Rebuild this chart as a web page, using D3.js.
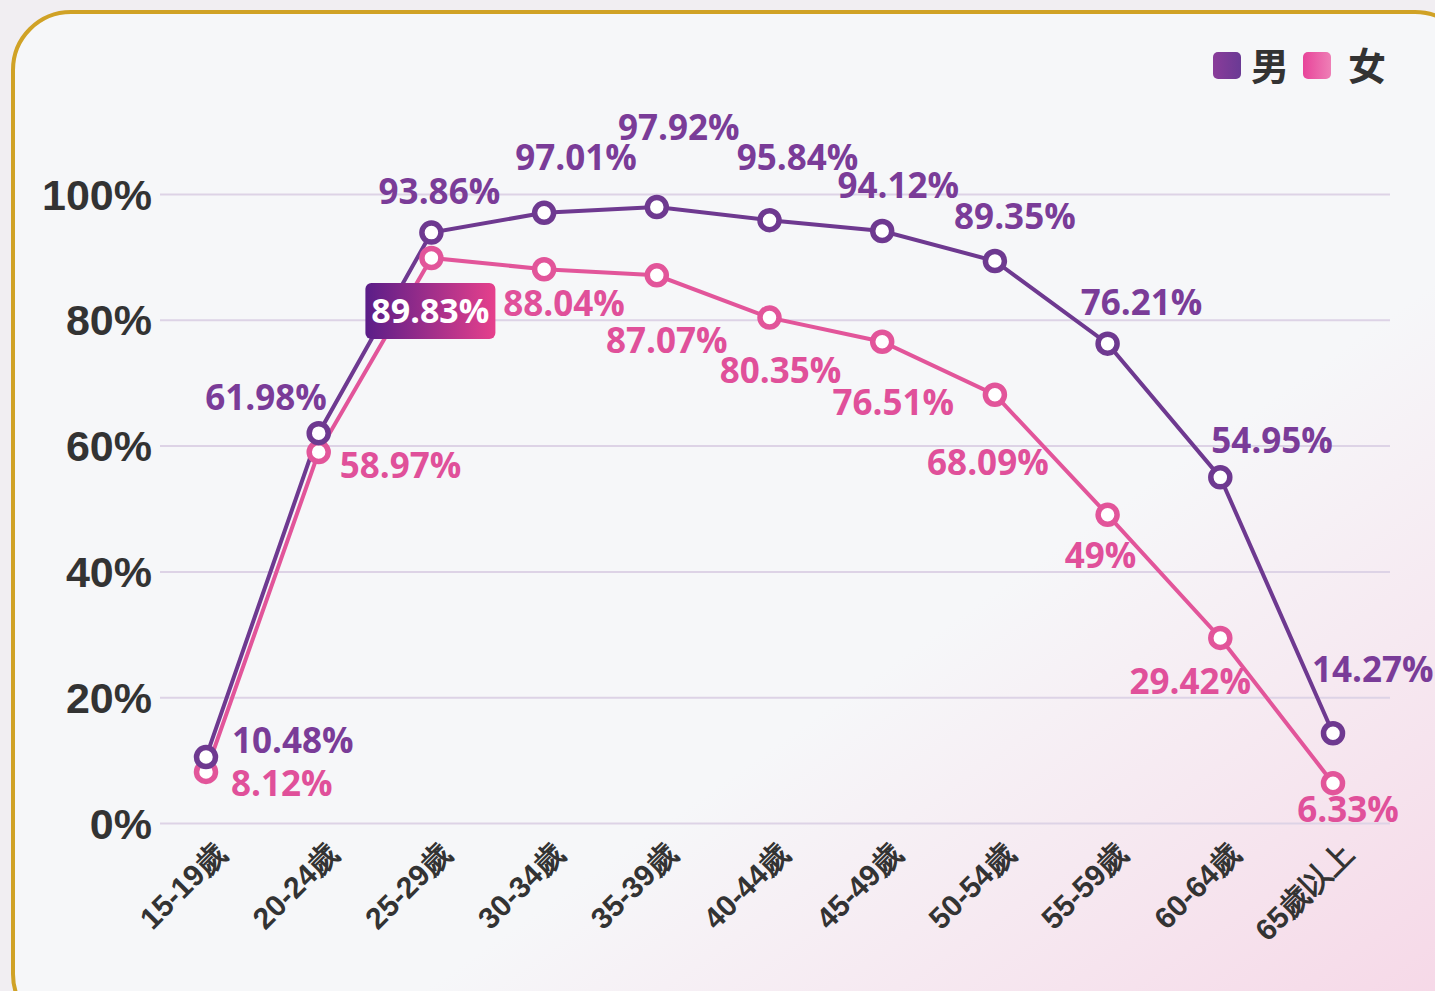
<!DOCTYPE html>
<html>
<head>
<meta charset="utf-8">
<script src="https://cdn.jsdelivr.net/npm/d3@7"></script>
<style>
  html, body { margin: 0; padding: 0; background: #f1eef2; }
  svg { display: block; font-family: "Open Sans", "Noto Sans CJK TC", sans-serif; }
</style>
</head>
<body>
<svg id="chart"></svg>
<script>
// age groups and labour participation rates (%)
const ageGroups = ['15-19歲', '20-24歲', '25-29歲', '30-34歲', '35-39歲', '40-44歲',
  '45-49歲', '50-54歲', '55-59歲', '60-64歲', '65歲以上'];
const maleRates = [10.48, 61.98, 93.86, 97.01, 97.92, 95.84, 94.12, 89.35, 76.21, 54.95, 14.27];
const femaleRates = [8.12, 58.97, 89.83, 88.04, 87.07, 80.35, 76.51, 68.09, 49, 29.42, 6.33];
const yTicks = [0, 20, 40, 60, 80, 100];
const seriesNames = ['男', '女'];

// label placement relative to each point: [dx, dy, anchor]
const maleLabelPos = [
  [26, -16, 'start'], [8, -35, 'end'], [8, -41, 'middle'], [32, -55, 'middle'],
  [22, -79, 'middle'], [28, -62, 'middle'], [16, -45, 'middle'], [20, -44, 'middle'],
  [34, -41, 'middle'], [-9, -37, 'start'], [-21, -63, 'start']
];
const femaleLabelPos = [
  [25, 12, 'start'], [21, 14, 'start'], [-1, 53, 'middle'], [20, 35, 'middle'],
  [10, 65, 'middle'], [11, 53, 'middle'], [11, 61, 'middle'], [-7, 68, 'middle'],
  [-7, 41, 'middle'], [-30, 44, 'middle'], [15, 27, 'middle']
];
const highlightIndex = 2;

const W = 1435, H = 991;
const maleColor = '#6e3990', femaleColor = '#e2559a';

const svg = d3.select('#chart').attr('width', W).attr('height', H);
const defs = svg.append('defs');

const cardGrad = defs.append('linearGradient').attr('id', 'cardGrad')
  .attr('x1', '0').attr('y1', '0').attr('x2', '1').attr('y2', '1');
cardGrad.append('stop').attr('offset', '0%').attr('stop-color', '#f6f7f9');
cardGrad.append('stop').attr('offset', '62%').attr('stop-color', '#f6f7f9');
cardGrad.append('stop').attr('offset', '100%').attr('stop-color', '#f6d6e6');

const boxGrad = defs.append('linearGradient').attr('id', 'boxGrad');
boxGrad.append('stop').attr('offset', '0%').attr('stop-color', '#5a1d88');
boxGrad.append('stop').attr('offset', '100%').attr('stop-color', '#e6408c');

const maleSq = defs.append('linearGradient').attr('id', 'maleSq');
maleSq.append('stop').attr('offset', '0%').attr('stop-color', '#8a3c9a');
maleSq.append('stop').attr('offset', '100%').attr('stop-color', '#6a3a94');
const femaleSq = defs.append('linearGradient').attr('id', 'femaleSq');
femaleSq.append('stop').attr('offset', '0%').attr('stop-color', '#e8449a');
femaleSq.append('stop').attr('offset', '100%').attr('stop-color', '#ee7fb6');

// card
svg.append('rect')
  .attr('x', 13).attr('y', 12).attr('width', 1460).attr('height', 1020)
  .attr('rx', 58)
  .attr('fill', 'url(#cardGrad)')
  .attr('stroke', '#d0a226').attr('stroke-width', 4);

const x = d3.scalePoint().domain(ageGroups).range([206, 1333]);
const y = d3.scaleLinear().domain([0, 100]).range([823, 194]);

// gridlines + y labels
const yAxis = d3.axisLeft(y).tickValues(yTicks).tickSize(-1230).tickPadding(8)
  .tickFormat(d => d + '%');
const yG = svg.append('g').attr('transform', 'translate(160,0)').call(yAxis);
yG.select('.domain').remove();
yG.selectAll('line').attr('stroke', '#ddd3e6').attr('stroke-width', 2);
yG.selectAll('text')
  .attr('fill', '#333').attr('font-size', 43).attr('font-weight', 700)
  .attr('x', -8).attr('dy', '0.35em');

// x labels
const xAxis = d3.axisBottom(x).tickSize(0).tickPadding(0);
const xG = svg.append('g').attr('transform', 'translate(0,838)').call(xAxis);
xG.select('.domain').remove();
xG.selectAll('text')
  .attr('fill', '#333').attr('font-size', 30).attr('font-weight', 700)
  .attr('text-anchor', 'end').attr('x', 0).attr('y', 0).attr('dy', '0.35em')
  .attr('transform', 'translate(14,10) rotate(-45)');

// lines
const line = d3.line().x((d, i) => x(ageGroups[i])).y(d => y(d));
svg.append('path').datum(maleRates).attr('d', line)
  .attr('fill', 'none').attr('stroke', maleColor).attr('stroke-width', 4);
svg.append('path').datum(femaleRates).attr('d', line)
  .attr('fill', 'none').attr('stroke', femaleColor).attr('stroke-width', 4);

function drawPoints(data, color) {
  svg.append('g').selectAll('circle').data(data).join('circle')
    .attr('cx', (d, i) => x(ageGroups[i]))
    .attr('cy', d => y(d))
    .attr('r', 9.5)
    .attr('fill', '#fff')
    .attr('stroke', color)
    .attr('stroke-width', 5.5);
}
drawPoints(femaleRates, femaleColor);
drawPoints(maleRates, maleColor);

function drawLabels(data, pos, color, skip) {
  const items = data.map((v, i) => ({ v, i })).filter(d => d.i !== skip);
  svg.append('g').selectAll('text').data(items).join('text')
    .attr('x', d => x(ageGroups[d.i]) + pos[d.i][0])
    .attr('y', d => y(d.v) + pos[d.i][1])
    .attr('dy', '0.35em')
    .attr('text-anchor', d => pos[d.i][2])
    .attr('font-size', 35).attr('font-weight', 700)
    .attr('fill', color)
    .text(d => d.v + '%');
}
drawLabels(maleRates, maleLabelPos, '#7a3c98', -1);
drawLabels(femaleRates, femaleLabelPos, '#e0509a', highlightIndex);

// highlighted female label
const hx = x(ageGroups[highlightIndex]) + femaleLabelPos[highlightIndex][0];
const hy = y(femaleRates[highlightIndex]) + femaleLabelPos[highlightIndex][1];
svg.append('rect')
  .attr('x', hx - 65).attr('y', hy - 28).attr('width', 130).attr('height', 56)
  .attr('rx', 6).attr('fill', 'url(#boxGrad)');
svg.append('text')
  .attr('x', hx).attr('y', hy).attr('dy', '0.35em')
  .attr('text-anchor', 'middle')
  .attr('font-size', 34).attr('font-weight', 700).attr('fill', '#fff')
  .text(femaleRates[highlightIndex] + '%');

// legend
const legend = svg.append('g').attr('transform', 'translate(1213,52)');
[['url(#maleSq)', 0], ['url(#femaleSq)', 90]].forEach(([fill, dx], i) => {
  legend.append('rect').attr('x', dx).attr('y', 0).attr('width', 28).attr('height', 27)
    .attr('rx', 5).attr('fill', fill);
  legend.append('text').attr('x', dx + (i === 0 ? 38 : 45)).attr('y', 14).attr('dy', '0.38em')
    .attr('font-size', 38).attr('font-weight', 700).attr('fill', '#333')
    .attr('font-family', '"Noto Sans CJK TC", sans-serif')
    .text(seriesNames[i]);
});
</script>
</body>
</html>
